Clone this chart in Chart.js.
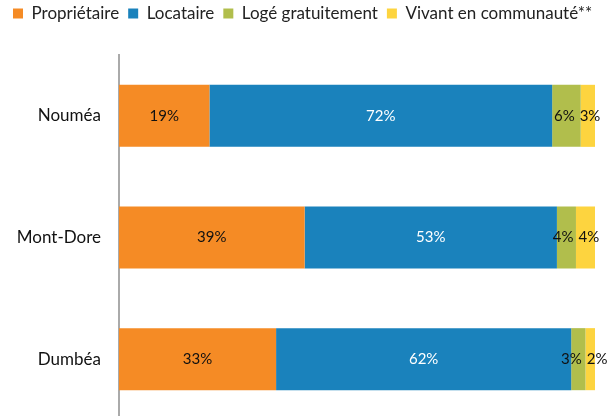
<!DOCTYPE html>
<html>
<head>
<meta charset="utf-8">
<script src="https://cdn.jsdelivr.net/npm/chart.js@4"></script>
<style>
  html, body { margin: 0; padding: 0; background: #fff; overflow: hidden; }
  #wrap { width: 615px; height: 416px; overflow: hidden; }
  canvas { display: block; }
</style>
</head>
<body>
<div id="wrap"><canvas id="chart" width="615" height="420"></canvas></div>
<script>
const communes = ['Nouméa', 'Mont-Dore', 'Dumbéa'];
const seriesNames = ['Propriétaire', 'Locataire', 'Logé gratuitement', 'Vivant en communauté**'];
const proprietaire = [19, 39, 33];
const locataire = [72, 53, 62];
const logeGratuit = [6, 4, 3];
const communaute = [3, 4, 2];
const colors = ['#F58B25', '#1A82BC', '#B1BE4C', '#FDD43F'];
const labelColors = ['#111', '#fff', '#111', '#111'];

// % inside each segment, small neighbours pushed apart so they don't overlap
const barLabels = {
    id: 'barLabels',
    afterDatasetsDraw(chart) {
        const ctx = chart.ctx;
        ctx.save();
        ctx.font = '15px Lato';
        ctx.textAlign = 'center';
        ctx.textBaseline = 'middle';
        const n = chart.data.labels.length;
        for (let j = 0; j < n; j++) {
            const items = chart.data.datasets.map((ds, i) => {
                const bar = chart.getDatasetMeta(i).data[j];
                const text = ds.data[j] + '%';
                return { i, text, x: (bar.x + bar.base) / 2, y: bar.y, w: ctx.measureText(text).width };
            });
            for (let k = 1; k < items.length; k++) {
                const a = items[k - 1], b = items[k];
                const gap = (b.x - b.w / 2) - (a.x + a.w / 2);
                if (gap < 5) {
                    const shift = (5 - gap) / 2;
                    a.x -= shift;
                    b.x += shift;
                }
            }
            items.forEach(it => {
                ctx.fillStyle = labelColors[it.i];
                ctx.fillText(it.text, it.x, it.y);
            });
        }
        ctx.restore();
    }
};

// legend on one line across the whole canvas, fixed band height above the plot
const legendBand = {
    id: 'legendBand',
    beforeInit(chart) {
        const legend = chart.legend;
        const fit = legend.fit;
        const draw = legend.draw;
        legend.fit = function () {
            this.maxWidth = chart.width;
            fit.call(legend);
            this.height = 53;
        };
        legend.draw = function () {
            const right = this.right;
            this.right = chart.width;
            chart.ctx.save();
            chart.ctx.translate(0, -6);
            draw.call(legend);
            chart.ctx.restore();
            this.right = right;
        };
    }
};

const ctx = document.getElementById('chart').getContext('2d');
new Chart(ctx, {
    type: 'bar',
    data: {
        labels: communes,
        datasets: [proprietaire, locataire, logeGratuit, communaute].map((d, i) => ({
            label: seriesNames[i],
            data: d,
            backgroundColor: colors[i],
            borderWidth: 0,
            barPercentage: 0.51,
            categoryPercentage: 1
        }))
    },
    options: {
        indexAxis: 'y',
        responsive: false,
        animation: false,
        layout: { padding: { top: 2, right: 20, bottom: 0, left: 4 } },
        plugins: {
            tooltip: { enabled: false },
            legend: {
                position: 'top',
                align: 'start',
                labels: {
                    boxWidth: 10,
                    boxHeight: 10,
                    padding: 9,
                    color: '#222',
                    font: { family: 'Lato', size: 17 }
                }
            }
        },
        scales: {
            x: {
                stacked: true,
                display: false,
                min: 0,
                max: 100
            },
            y: {
                stacked: true,
                grid: { display: false },
                border: { color: '#aaa', width: 2 },
                ticks: { color: '#111', font: { family: 'Lato', size: 17 }, padding: 10 },
                afterFit(scale) {
                    scale.width = 115;
                    // no extra room for the first/last label, the axis runs to the bottom edge
                    scale.paddingTop = 0;
                    scale.paddingBottom = 0;
                }
            }
        }
    },
    plugins: [barLabels, legendBand]
});
</script>
</body>
</html>
